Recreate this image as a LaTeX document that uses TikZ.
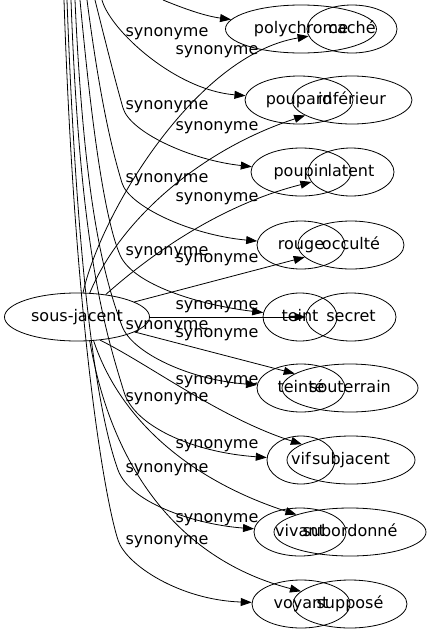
\documentclass[tikz,border=0pt]{standalone}
\usepackage{fontspec}
\setmainfont{DejaVu Sans}
\usetikzlibrary{shapes.geometric,arrows.meta}
\tikzset{
	word/.style={ellipse,draw,line width=0.8pt,inner sep=0pt,minimum height=48pt,text height=12pt,text depth=3.2pt},
	syn/.style={inner sep=0pt,text height=12pt,text depth=3.2pt},
	rel/.style={line width=0.8pt,-{Triangle[length=11pt,width=8pt]}}
}
\begin{document}
\begin{tikzpicture}[x=1pt,y=-1pt,font=\fontsize{16}{18}\selectfont]
		\useasboundingbox (0,0) rectangle (432,635);
		\clip (0,0) rectangle (432,635);
		\fill[white] (0,0) rectangle (432,635);
		\node[word,minimum width=145pt] (sousjacent) at (77,317) {sous-jacent};
		% first layer
		\node[word,minimum width=151pt] (polychrome) at (301,29) {polychrome};
		\node[word,minimum width=108pt] (poupard) at (299,100) {poupard};
		\node[word,minimum width=100pt] (poupin) at (301,172) {poupin};
		\node[word,minimum width=88pt] (rouge) at (301,245) {rouge};
		\node[word,minimum width=74pt] (teint) at (300,317) {teint};
		\node[word,minimum width=88pt] (teinte) at (301,388) {teinté};
		\node[word,minimum width=68pt] (vif) at (301,460) {vif};
		\node[word,minimum width=92pt] (vivant) at (300,532) {vivant};
		\node[word,minimum width=98pt] (voyant) at (301,604) {voyant};
		% second layer
		\node[word,minimum width=90pt] (cache) at (352,29) {caché};
		\node[word,minimum width=120pt] (inferieur) at (352,100) {inférieur};
		\node[word,minimum width=86pt] (latent) at (351,172) {latent};
		\node[word,minimum width=106pt] (occulte) at (351,245) {occulté};
		\node[word,minimum width=90pt] (secret) at (351,317) {secret};
		\node[word,minimum width=136pt] (souterrain) at (350,388) {souterrain};
		\node[word,minimum width=128pt] (subjacent) at (351,460) {subjacent};
		\node[word,minimum width=152pt] (subordonne) at (350,532) {subordonné};
		\node[word,minimum width=114pt] (suppose) at (350,604) {supposé};
		% labels
		\node[syn] (lpoupard) at (167,32) {synonyme};
		\node[syn] (lpoupin) at (167,105) {synonyme};
		\node[syn] (lrouge) at (167,178) {synonyme};
		\node[syn] (lteint) at (167,251) {synonyme};
		\node[syn] (lteinte) at (167,325) {synonyme};
		\node[syn] (lvif) at (167,397) {synonyme};
		\node[syn] (lvivant) at (167,468) {synonyme};
		\node[syn] (lvoyant) at (167,540) {synonyme};
		\node[syn] (lcache) at (217,50) {synonyme};
		\node[syn] (linferieur) at (217,126) {synonyme};
		\node[syn] (llatent) at (217,197) {synonyme};
		\node[syn] (locculte) at (217,258) {synonyme};
		\node[syn] (lsecret) at (217,305) {synonyme};
		\node[syn] (lsouterrain) at (217,333) {synonyme};
		\node[syn] (lsubjacent) at (217,380) {synonyme};
		\node[syn] (lsubordonne) at (217,444) {synonyme};
		\node[syn] (lsuppose) at (217,518) {synonyme};
		% free ends at the top
		\coordinate (tpolychrome) at (163,0);
		\coordinate (tpoupard) at (102,0);
		\coordinate (tpoupin) at (95,0);
		\coordinate (trouge) at (87,0);
		\coordinate (tteint) at (80,0);
		\coordinate (tteinte) at (75,0);
		\coordinate (tvif) at (71,0);
		\coordinate (tvivant) at (67,0);
		\coordinate (tvoyant) at (64,0);
		\draw[rel] (tpolychrome) .. controls (185,9) and (205,16) .. (polychrome);
		\draw[rel] (tpoupard) .. controls (110,30) and (175,90) .. (poupard);
		\draw[rel] (tpoupin) .. controls (105,40) and (115,80) .. (123,108) .. controls (130,132) and (190,160) .. (poupin);
		\draw[rel] (trouge) .. controls (100,100) and (112,150) .. (122,183) .. controls (129,206) and (190,235) .. (rouge);
		\draw[rel] (tteint) .. controls (92,130) and (105,220) .. (120,255) .. controls (133,285) and (200,305) .. (teint);
		\draw[rel] (tteinte) .. controls (84,200) and (103,275) .. (122,326) .. controls (132,353) and (190,380) .. (teinte);
		\draw[rel] (tvif) .. controls (80,250) and (105,330) .. (124,392) .. controls (134,425) and (190,452) .. (vif);
		\draw[rel] (tvivant) .. controls (78,300) and (100,420) .. (118,470) .. controls (131,505) and (200,525) .. (vivant);
		\draw[rel] (tvoyant) .. controls (75,330) and (105,500) .. (118,540) .. controls (126,565) and (180,600) .. (voyant);
		\draw[rel] (sousjacent.76) .. controls (100,215) and (195,55) .. (cache);
		\draw[rel] (sousjacent.62) .. controls (120,220) and (200,150) .. (inferieur);
		\draw[rel] (sousjacent.38) .. controls (150,255) and (220,205) .. (latent);
		\draw[rel] (sousjacent) -- (occulte);
		\draw[rel] (sousjacent) -- (secret);
		\draw[rel] (sousjacent) -- (souterrain);
		\draw[rel] (sousjacent.-45) .. controls (150,365) and (220,418) .. (subjacent);
		\draw[rel] (sousjacent.-55) .. controls (120,420) and (190,480) .. (subordonne);
		\draw[rel] (sousjacent.-62) .. controls (112,470) and (180,560) .. (suppose);
	\end{tikzpicture}
\end{document}
